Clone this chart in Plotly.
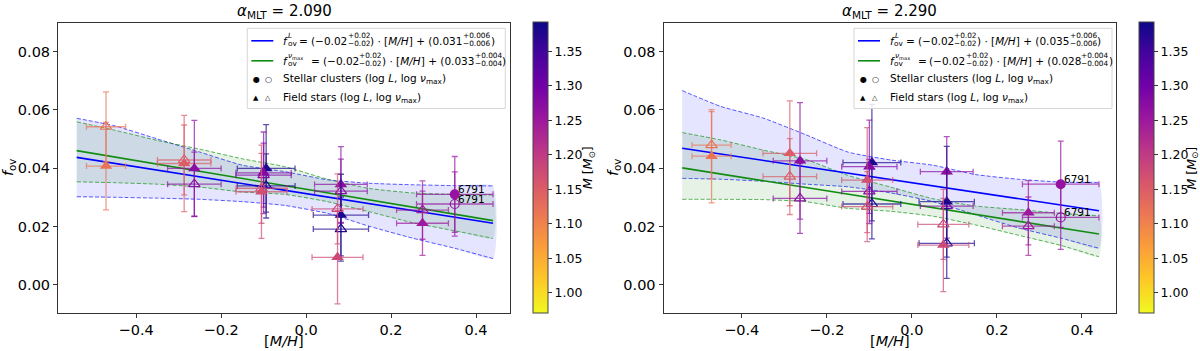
import plotly.graph_objects as go

W, H = 1200, 351

# ---------------- data ----------------
ALPHA_MLT = ["2.090", "2.290"]

# field stars (one entry per star)
STAR_FEH = [-0.471, -0.287, -0.263, -0.094, -0.100, -0.105, 0.082, 0.082, 0.074, 0.274]
STAR_FEH_ERR = [0.046, 0.063, 0.063, 0.068, 0.065, 0.060, 0.062, 0.065, 0.060, 0.061]
STAR_MASS = [1.12, 1.15, 1.27, 1.38, 1.28, 1.17, 1.27, 1.38, 1.18, 1.25]

# alpha_MLT = 2.090
FOV_L_A2090 = [0.0407, 0.0416, 0.0399, 0.0399, 0.0384, 0.0319, 0.0344, 0.0239, 0.0094, 0.0211]
ERR_L_A2090 = [0.0150, 0.0165, 0.0165, 0.0150, 0.0140, 0.0160, 0.0130, 0.0140, 0.0160, 0.0110]
FOV_NU_A2090 = [0.0542, 0.0428, 0.0345, 0.0339, 0.0376, 0.0331, 0.0321, 0.0191, 0.0260, 0.0256]
ERR_NU_A2090 = [0.0120, 0.0120, 0.0110, 0.0110, 0.0110, 0.0120, 0.0110, 0.0110, 0.0120, 0.0100]

# alpha_MLT = 2.290
FOV_L_A2290 = [0.0441, 0.0451, 0.0425, 0.0419, 0.0405, 0.0359, 0.0388, 0.0285, 0.0136, 0.0247]
ERR_L_A2290 = [0.0160, 0.0180, 0.0200, 0.0200, 0.0160, 0.0180, 0.0120, 0.0190, 0.0160, 0.0110]
FOV_NU_A2290 = [0.0479, 0.0371, 0.0296, 0.0277, 0.0320, 0.0268, 0.0270, 0.0142, 0.0207, 0.0201]
ERR_NU_A2290 = [0.0115, 0.0130, 0.0120, 0.0120, 0.0110, 0.0120, 0.0110, 0.0120, 0.0120, 0.0100]

# stellar clusters
CLUSTER_NAME = ["6791"]
CLUSTER_FEH = [0.35]
CLUSTER_FEH_ERR = [0.09]
CLUSTER_MASS = [1.26]
CL_FOV_L_A2090 = [0.0310]
CL_ERR_L_A2090 = [0.0130]
CL_FOV_NU_A2090 = [0.0277]
CL_ERR_NU_A2090 = [0.0110]
CL_FOV_L_A2290 = [0.0345]
CL_ERR_L_A2290 = [0.0148]
CL_FOV_NU_A2290 = [0.0231]
CL_ERR_NU_A2290 = [0.0110]

# fitted relations (end points)
FIT_X = [-0.54, 0.44]
FIT_L_A2090 = [0.0437, 0.0211]
FIT_NU_A2090 = [0.0460, 0.0220]
FIT_L_A2290 = [0.0468, 0.0254]
FIT_NU_A2290 = [0.0401, 0.0174]

# confidence bands
BAND_X = [-0.54, -0.45, -0.35, -0.25, -0.15, -0.05, 0.05, 0.15, 0.25, 0.35, 0.44]
BAND_L_UP_A2090 = [0.0571, 0.0545, 0.0500, 0.0455, 0.0410, 0.0388, 0.0360, 0.0348, 0.0343, 0.0340, 0.0339]
BAND_L_LO_A2090 = [0.0302, 0.0300, 0.0297, 0.0293, 0.0285, 0.0272, 0.0245, 0.0200, 0.0160, 0.0125, 0.0090]
BAND_NU_UP_A2090 = [0.0559, 0.0530, 0.0495, 0.0465, 0.0432, 0.0405, 0.0362, 0.0330, 0.0315, 0.0310, 0.0308]
BAND_NU_LO_A2090 = [0.0353, 0.0350, 0.0345, 0.0335, 0.0318, 0.0310, 0.0285, 0.0250, 0.0213, 0.0185, 0.0159]
BAND_L_UP_A2290 = [0.0666, 0.0612, 0.0572, 0.0515, 0.0455, 0.0428, 0.0410, 0.0378, 0.0362, 0.0352, 0.0350]
BAND_L_LO_A2290 = [0.0365, 0.0362, 0.0355, 0.0345, 0.0336, 0.0315, 0.0285, 0.0240, 0.0195, 0.0160, 0.0125]
BAND_NU_UP_A2290 = [0.0522, 0.0497, 0.0462, 0.0430, 0.0375, 0.0335, 0.0295, 0.0270, 0.0258, 0.0245, 0.0236]
BAND_NU_LO_A2290 = [0.0293, 0.0293, 0.0292, 0.0285, 0.0262, 0.0252, 0.0235, 0.0205, 0.0170, 0.0135, 0.0096]

# legend coefficients: slope, slope errors, intercept, intercept errors
LEG_SLOPE = ["\u22120.02", "+0.02", "\u22120.02"]
LEG_L_COEF = [("0.031", "+0.006", "\u22120.006"), ("0.035", "+0.006", "\u22120.006")]
LEG_NU_COEF = [("0.033", "+0.004", "\u22120.004"), ("0.028", "+0.004", "\u22120.004")]

X_TICKS = [-0.4, -0.2, 0.0, 0.2, 0.4]
X_TICKTEXT = ["\u22120.4", "\u22120.2", "0.0", "0.2", "0.4"]
Y_TICKS = [0.0, 0.02, 0.04, 0.06, 0.08]
Y_TICKTEXT = ["0.00", "0.02", "0.04", "0.06", "0.08"]
CB_TICKS = [1.00, 1.05, 1.10, 1.15, 1.20, 1.25, 1.30, 1.35]

CMIN, CMAX = 0.971, 1.393
PLASMA = ['#0d0887', '#46039f', '#7201a8', '#9c179e', '#bd3786',
          '#d8576b', '#ed7953', '#fb9f3a', '#fdca26', '#f0f921']
PLASMA_R = PLASMA[::-1]

FONT = "DejaVu Sans"

# DejaVu Sans advance widths (em) used to lay out the legend formula
ADV = {'f': .352, '=': .838, '(': .39, ')': .39, '\u2212': .838, '+': .838,
       '.': .318, '\u00b7': .318, '[': .39, ']': .39, 'M': .863, '/': .337,
       'H': .752, ' ': .318, 'L': .557, 'o': .612, 'v': .592, '\u03bd': .592,
       'm': .974, 'a': .613, 'x': .592}
for _d in "0123456789":
    ADV[_d] = .636


def text_w(s, size):
    return sum(ADV.get(ch, .6) for ch in s) * size


def hex2rgb(h):
    h = h.lstrip('#')
    return [int(h[i:i + 2], 16) for i in (0, 2, 4)]


def mass_color(m, alpha=1.0):
    t = (m - CMIN) / (CMAX - CMIN)
    t = min(max(t, 0.0), 1.0)
    n = len(PLASMA_R) - 1
    i = min(int(t * n), n - 1)
    f = t * n - i
    a, b = hex2rgb(PLASMA_R[i]), hex2rgb(PLASMA_R[i + 1])
    c = [round(a[k] + (b[k] - a[k]) * f) for k in range(3)]
    return f"rgba({c[0]},{c[1]},{c[2]},{alpha})"


def px_x(px):
    return px / W


def px_y(py):
    return 1 - py / H


PANELS = [
    dict(alpha=ALPHA_MLT[0], xa="x", ya="y", ca="coloraxis",
         fovL=FOV_L_A2090, errL=ERR_L_A2090, fovN=FOV_NU_A2090, errN=ERR_NU_A2090,
         cL=CL_FOV_L_A2090, ceL=CL_ERR_L_A2090, cN=CL_FOV_NU_A2090, ceN=CL_ERR_NU_A2090,
         fitL=FIT_L_A2090, fitN=FIT_NU_A2090,
         bLu=BAND_L_UP_A2090, bLl=BAND_L_LO_A2090, bNu=BAND_NU_UP_A2090, bNl=BAND_NU_LO_A2090,
         legL=LEG_L_COEF[0], legN=LEG_NU_COEF[0],
         dom=(58, 510), cbx=532.7, cbt=588, leg_x0=247.3, ylab=9),
    dict(alpha=ALPHA_MLT[1], xa="x2", ya="y2", ca="coloraxis2",
         fovL=FOV_L_A2290, errL=ERR_L_A2290, fovN=FOV_NU_A2290, errN=ERR_NU_A2290,
         cL=CL_FOV_L_A2290, ceL=CL_ERR_L_A2290, cN=CL_FOV_NU_A2290, ceN=CL_ERR_NU_A2290,
         fitL=FIT_L_A2290, fitN=FIT_NU_A2290,
         bLu=BAND_L_UP_A2290, bLl=BAND_L_LO_A2290, bNu=BAND_NU_UP_A2290, bNl=BAND_NU_LO_A2290,
         legL=LEG_L_COEF[1], legN=LEG_NU_COEF[1],
         dom=(663.5, 1116), cbx=1139, cbt=1191.5, leg_x0=854, ylab=614),
]

fig = go.Figure()
annotations = []
shapes = []

BLUE = "#0000ff"
GREEN = "#128c12"

for P in PANELS:
    xa, ya, ca = P["xa"], P["ya"], P["ca"]
    # bands
    for up, lo, fillc, edgec in [
        (P["bLu"], P["bLl"], "rgba(0,0,255,0.10)", "rgba(0,0,255,0.65)"),
        (P["bNu"], P["bNl"], "rgba(0,128,0,0.10)", "rgba(0,140,0,0.65)"),
    ]:
        fig.add_trace(go.Scatter(
            x=BAND_X + BAND_X[::-1], y=up + lo[::-1], mode="lines",
            fill="toself", fillcolor=fillc, line=dict(width=0, shape="spline", smoothing=0.5),
            hoverinfo="skip", showlegend=False, xaxis=xa, yaxis=ya))
        for edge in (up, lo):
            fig.add_trace(go.Scatter(
                x=BAND_X, y=edge, mode="lines",
                line=dict(color=edgec, width=1, dash="4px,2px", shape="spline", smoothing=0.5),
                hoverinfo="skip", showlegend=False, xaxis=xa, yaxis=ya))
    # fit lines
    fig.add_trace(go.Scatter(x=FIT_X, y=P["fitL"], mode="lines",
                             line=dict(color=BLUE, width=1.6), showlegend=False,
                             xaxis=xa, yaxis=ya))
    fig.add_trace(go.Scatter(x=FIT_X, y=P["fitN"], mode="lines",
                             line=dict(color=GREEN, width=1.6), showlegend=False,
                             xaxis=xa, yaxis=ya))

    def add_point(x, y, ex, ey, m, symbol, size, lw):
        ce = mass_color(m, 0.7)
        fig.add_trace(go.Scatter(
            x=[x], y=[y], mode="markers",
            marker=dict(symbol=symbol, size=size, color=[m], coloraxis=ca,
                        line=dict(width=lw)),
            error_x=dict(type="data", array=[ex], color=ce, thickness=1.3, width=3),
            error_y=dict(type="data", array=[ey], color=ce, thickness=1.3, width=3),
            showlegend=False, xaxis=xa, yaxis=ya))

    # field stars
    for i in range(len(STAR_FEH)):
        add_point(STAR_FEH[i], P["fovN"][i], STAR_FEH_ERR[i], P["errN"][i],
                  STAR_MASS[i], "triangle-up-open", 10, 1.2)
        add_point(STAR_FEH[i], P["fovL"][i], STAR_FEH_ERR[i], P["errL"][i],
                  STAR_MASS[i], "triangle-up", 11, 0)
    # clusters
    for i in range(len(CLUSTER_FEH)):
        add_point(CLUSTER_FEH[i], P["cN"][i], CLUSTER_FEH_ERR[i], P["ceN"][i],
                  CLUSTER_MASS[i], "circle-open", 9, 1.2)
        add_point(CLUSTER_FEH[i], P["cL"][i], CLUSTER_FEH_ERR[i], P["ceL"][i],
                  CLUSTER_MASS[i], "circle", 10, 0)
        for yy in (P["cL"][i], P["cN"][i]):
            annotations.append(dict(
                x=CLUSTER_FEH[i], y=yy, xref=xa, yref=ya, text=CLUSTER_NAME[i],
                showarrow=False, xanchor="left", yanchor="middle", xshift=2, yshift=5,
                borderpad=0, font=dict(family=FONT, size=10.5, color="black")))

    # title
    cx = (P["dom"][0] + P["dom"][1]) / 2
    annotations.append(dict(
        x=px_x(cx), y=px_y(12), xref="paper", yref="paper",
        text=f"<i>\u03b1</i><sub>MLT</sub> = {P['alpha']}", showarrow=False,
        xanchor="center", yanchor="middle", font=dict(family=FONT, size=15, color="black")))
    # axis labels
    annotations.append(dict(
        x=px_x(cx), y=px_y(341), xref="paper", yref="paper",
        text="[<i>M/H</i>]", showarrow=False, xanchor="center", yanchor="middle",
        font=dict(family=FONT, size=14.5, color="black")))
    annotations.append(dict(
        x=px_x(P["ylab"]), y=px_y(168), xref="paper", yref="paper",
        text="<i>f</i><sub>ov</sub>", showarrow=False, textangle=-90,
        xanchor="center", yanchor="middle",
        font=dict(family=FONT, size=14.5, color="black")))
    # colorbar title
    annotations.append(dict(
        x=px_x(P["cbt"]), y=px_y(168), xref="paper", yref="paper",
        text="<i>M</i> [<i>M</i><sub>\u2299</sub>]", showarrow=False, textangle=-90,
        xanchor="center", yanchor="middle",
        font=dict(family=FONT, size=12.5, color="black")))

    # ---- legend (drawn manually) ----
    x0 = P["leg_x0"]
    shapes.append(dict(type="rect", xref="paper", yref="paper",
                       x0=px_x(x0), x1=px_x(x0 + 258), y0=px_y(28.3), y1=px_y(108.5),
                       fillcolor="rgba(255,255,255,0.85)", line=dict(color="#d6d6d6", width=1),
                       layer="above"))
    for yy, col in ((40.8, BLUE), (60.8, GREEN)):
        shapes.append(dict(type="line", xref="paper", yref="paper",
                           x0=px_x(x0 + 4), x1=px_x(x0 + 26), y0=px_y(yy), y1=px_y(yy),
                           line=dict(color=col, width=1.6), layer="above"))

    def seg(text, dx, y, size=10.5, anchor="left"):
        annotations.append(dict(
            x=px_x(x0 + dx), y=px_y(y), xref="paper", yref="paper", text=text,
            showarrow=False, xanchor=anchor, yanchor="middle", borderpad=0,
            font=dict(family=FONT, size=size, color="black")))

    S, SS = 10.5, 7.35

    def formula_row(r, sup_html, sup_plain, coef):
        cur = 35.0
        seg("<i>f</i>", cur, r)
        cur += text_w("f", S) + 0.6
        seg(sup_html, cur + 0.8, r - 5.2, SS)
        seg("ov", cur, r + 2.6, SS)
        cur += max(text_w(sup_plain, SS), text_w("ov", SS)) + 2.9
        seg("=", cur, r)
        cur += text_w("=", S) + 2.9
        t = "(" + LEG_SLOPE[0]
        seg(t, cur, r)
        cur += text_w(t, S) + 0.3
        seg(LEG_SLOPE[1], cur, r - 5.2, SS)
        seg(LEG_SLOPE[2], cur, r + 2.6, SS)
        cur += text_w(LEG_SLOPE[1], SS) + 0.3
        t_plain = ") \u00b7 [M/H] + (" + coef[0]
        seg(") \u00b7 [<i>M/H</i>] + (" + coef[0], cur, r)
        cur += text_w(t_plain, S) + 0.3
        seg(coef[1], cur, r - 5.2, SS)
        seg(coef[2], cur, r + 2.6, SS)
        cur += text_w(coef[1], SS) + 0.3
        seg(")", cur, r)

    formula_row(40.8, "<i>L</i>", "L", P["legL"])
    formula_row(60.8, "<i>\u03bd</i><sub>max</sub>", "\u03bdmax", P["legN"])

    r3, r4 = 79.3, 97.7
    seg("\u25cf", 5, r3, 8)
    seg("\u25cb", 17, r3, 8)
    seg("Stellar clusters (log <i>L</i>, log <i>\u03bd</i><sub>max</sub>)", 35, r3)
    seg("\u25b2", 5, r4, 7)
    seg("\u25b3", 17, r4, 7)
    seg("Field stars (log <i>L</i>, log <i>\u03bd</i><sub>max</sub>)", 35, r4)

axis_common = dict(
    showline=True, mirror=True, linecolor="#333", linewidth=1,
    ticks="outside", ticklen=4, tickcolor="#333", tickwidth=1,
    showgrid=False, zeroline=False,
    tickfont=dict(family=FONT, size=14.5, color="black"))

ydom = [px_y(313), px_y(22.7)]


def cbar(x):
    return dict(
        x=px_x(x), xanchor="left", xpad=0, xref="paper",
        y=px_y(21.7), yanchor="top", ypad=0, yref="paper",
        len=(313 - 21.7) / H, lenmode="fraction", thickness=14.5,
        outlinewidth=1, outlinecolor="#444",
        tickvals=CB_TICKS, ticktext=[f"{v:.2f}" for v in CB_TICKS],
        ticks="outside", ticklen=4, tickcolor="#333",
        tickfont=dict(family=FONT, size=12.5, color="black"))


fig.update_layout(
    width=W, height=H, margin=dict(l=0, r=0, t=0, b=0),
    paper_bgcolor="white", plot_bgcolor="white",
    font=dict(family=FONT, color="black"),
    xaxis=dict(domain=[px_x(58), px_x(510)], range=[-0.584, 0.48],
               tickvals=X_TICKS, ticktext=X_TICKTEXT, anchor="y", **axis_common),
    yaxis=dict(domain=ydom, range=[-0.0097, 0.0899],
               tickvals=Y_TICKS, ticktext=Y_TICKTEXT, anchor="x", **axis_common),
    xaxis2=dict(domain=[px_x(663.5), px_x(1116)], range=[-0.584, 0.48],
                tickvals=X_TICKS, ticktext=X_TICKTEXT, anchor="y2", **axis_common),
    yaxis2=dict(domain=ydom, range=[-0.0097, 0.0899],
                tickvals=Y_TICKS, ticktext=Y_TICKTEXT, anchor="x2", **axis_common),
    coloraxis=dict(colorscale="Plasma_r", cmin=CMIN, cmax=CMAX, colorbar=cbar(532.7)),
    coloraxis2=dict(colorscale="Plasma_r", cmin=CMIN, cmax=CMAX, colorbar=cbar(1139)),
    annotations=annotations, shapes=shapes, showlegend=False,
)

fig.write_html("out.html", config={"displayModeBar": False},
               post_script="document.body.style.margin='0px';document.body.style.overflow='hidden';")
